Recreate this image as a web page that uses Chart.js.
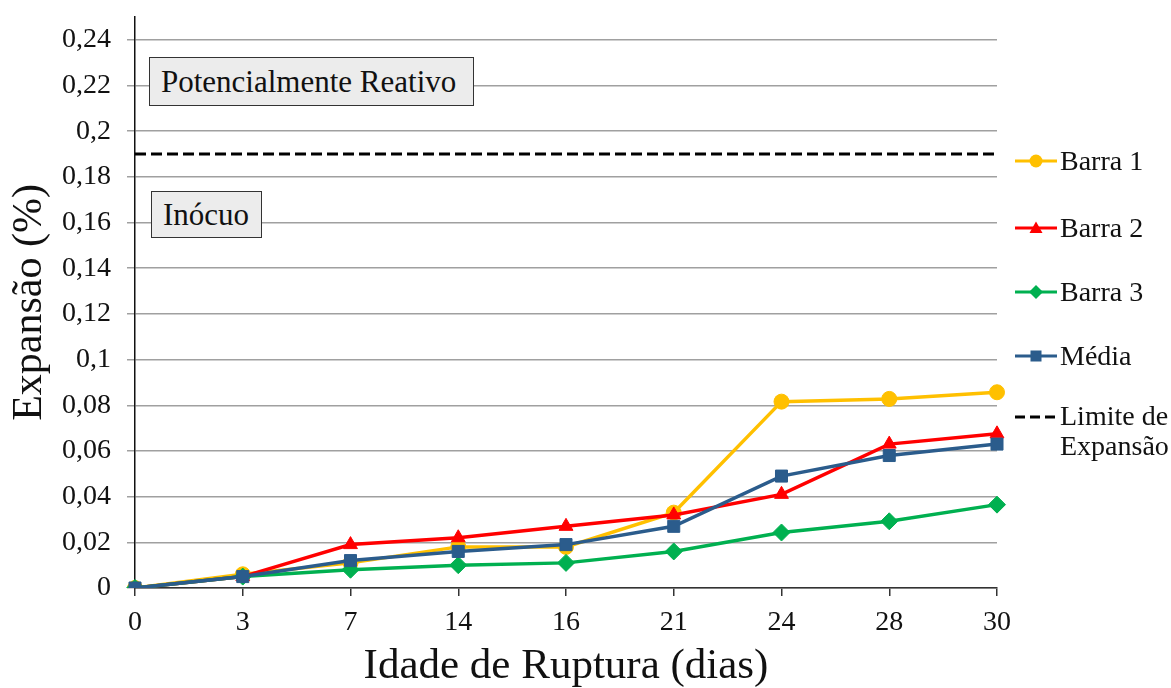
<!DOCTYPE html>
<html>
<head>
<meta charset="utf-8">
<script src="https://cdn.jsdelivr.net/npm/chart.js@4/dist/chart.umd.min.js"></script>
<style>
  body { margin: 0; background: #fff; }
  #wrap { position: relative; width: 1171px; height: 688px; font-family: 'Liberation Serif', 'Times New Roman', serif; }
  .box { position: absolute; background: #ececec; border: 1.5px solid #333; font-size: 31px; color: #111; box-sizing: border-box; padding: 0 0 0 11px; white-space: nowrap; display: flex; align-items: center; }
  .item { position: absolute; left: 1015px; display: flex; align-items: center; font-size: 28px; color: #111; line-height: 30px; white-space: nowrap; }
  .item svg { margin-right: 3px; flex: none; }
</style>
</head>
<body>
<div id="wrap">
  <canvas id="myChart"></canvas>
  <div class="box" style="left:149px;top:57px;width:325px;height:49px;">Potencialmente Reativo</div>
  <div class="box" style="left:151px;top:191px;width:111px;height:47px;">Inócuo</div>
</div>
<script>
// idade de ruptura (dias)
var dias = ['0', '3', '7', '14', '16', '21', '24', '28', '30']

// expansão (%)
var barra1 = [0, 0.006, 0.011, 0.018, 0.018, 0.033, 0.0816, 0.0828, 0.0857]
var barra2 = [0, 0.005, 0.019, 0.022, 0.027, 0.032, 0.041, 0.063, 0.0675]
var barra3 = [0, 0.005, 0.008, 0.010, 0.011, 0.016, 0.0243, 0.0292, 0.0365]
var media = [0, 0.005, 0.012, 0.016, 0.019, 0.027, 0.049, 0.058, 0.063]
var limite = [0.19, 0.19, 0.19, 0.19, 0.19, 0.19, 0.19, 0.19, 0.19]

var serif = "'Liberation Serif', 'Times New Roman', serif"

var series = [
  { label: 'Barra 1', data: barra1, color: '#FFC000', pointStyle: 'circle', radius: 7.5, order: 3 },
  { label: 'Barra 2', data: barra2, color: '#FF0000', pointStyle: 'triangle', radius: 8, order: 2 },
  { label: 'Barra 3', data: barra3, color: '#00B050', pointStyle: 'rectRot', radius: 8.5, order: 1 },
  { label: 'Média', data: media, color: '#2B5C8C', pointStyle: 'rect', radius: 8.5, order: 0 }
]

var datasets = series.map(function (s) {
  return {
    label: s.label,
    data: s.data,
    borderColor: s.color,
    backgroundColor: s.color,
    borderWidth: 3.5,
    pointStyle: s.pointStyle,
    pointRadius: s.radius,
    pointBorderWidth: 1,
    order: s.order
  }
})
datasets.push({
  label: 'Limite de Expansão',
  data: limite,
  borderColor: '#000',
  borderWidth: 3,
  borderDash: [11, 5],
  pointRadius: 0,
  order: 4
})

var fmt = function (v) {
  return String(Math.round(v * 100) / 100).replace('.', ',')
}

var ctx = document.getElementById('myChart')
var chart = new Chart(ctx, {
  type: 'line',
  data: { labels: dias, datasets: datasets },
  options: {
    responsive: true,
    maintainAspectRatio: false,
    animation: false,
    layout: { padding: { left: 9, top: 17, right: 174, bottom: 0 } },
    plugins: { legend: { display: false }, tooltip: { enabled: false } },
    scales: {
      x: {
        offset: false,
        border: { color: '#333', width: 1.5 },
        grid: { drawOnChartArea: false, drawTicks: true, tickLength: 8, color: '#333', lineWidth: 1.5 },
        ticks: { color: '#111', font: { family: serif, size: 28 }, padding: 10, maxRotation: 0 },
        title: { display: true, text: 'Idade de Ruptura (dias)', color: '#111', font: { family: serif, size: 43, lineHeight: 1 }, padding: { top: 0, bottom: 0 } },
        afterFit: function (scale) {
          scale.height = 100
          scale.paddingLeft = 0
          scale.paddingRight = 0
        }
      },
      y: {
        min: 0,
        max: 0.25,
        border: { color: '#111', width: 1.5 },
        grid: { color: '#a0a0a0', lineWidth: 1.5, tickLength: 8 },
        ticks: { stepSize: 0.02, includeBounds: false, color: '#111', font: { family: serif, size: 28 }, padding: 16, callback: fmt },
        title: { display: true, text: 'Expansão (%)', color: '#111', font: { family: serif, size: 42, lineHeight: 1 }, padding: { top: 0, bottom: 0 } },
        afterFit: function (scale) {
          scale.width = 126
          scale.paddingTop = 0
          scale.paddingBottom = 0
        }
      }
    }
  }
})

// legenda à direita (centros das linhas em y)
var legendY = [162, 229, 293, 357, 417]
var wrap = document.getElementById('wrap')
series.concat([{ label: 'Limite de<br>Expansão', color: '#000', dash: true }]).forEach(function (s, i) {
  var marker = ''
  if (s.pointStyle === 'circle') marker = '<circle cx="21" cy="8" r="6.5" fill="' + s.color + '"/>'
  if (s.pointStyle === 'triangle') marker = '<polygon points="21,1.5 27.5,13 14.5,13" fill="' + s.color + '"/>'
  if (s.pointStyle === 'rectRot') marker = '<polygon points="21,1 28,8 21,15 14,8" fill="' + s.color + '"/>'
  if (s.pointStyle === 'rect') marker = '<rect x="15.5" y="2.5" width="11" height="11" fill="' + s.color + '"/>'
  var line = s.dash
    ? '<line x1="0" y1="8" x2="42" y2="8" stroke="#000" stroke-width="3" stroke-dasharray="10,5"/>'
    : '<line x1="0" y1="8" x2="42" y2="8" stroke="' + s.color + '" stroke-width="3"/>'
  var div = document.createElement('div')
  div.className = 'item'
  div.style.top = (legendY[i] - 16) + 'px'
  if (s.dash) div.style.alignItems = 'flex-start'
  div.innerHTML = '<svg width="42" height="16" style="' + (s.dash ? 'margin-top:8px' : '') + '">' + line + marker + '</svg><span>' + s.label + '</span>'
  wrap.appendChild(div)
})
</script>
</body>
</html>
